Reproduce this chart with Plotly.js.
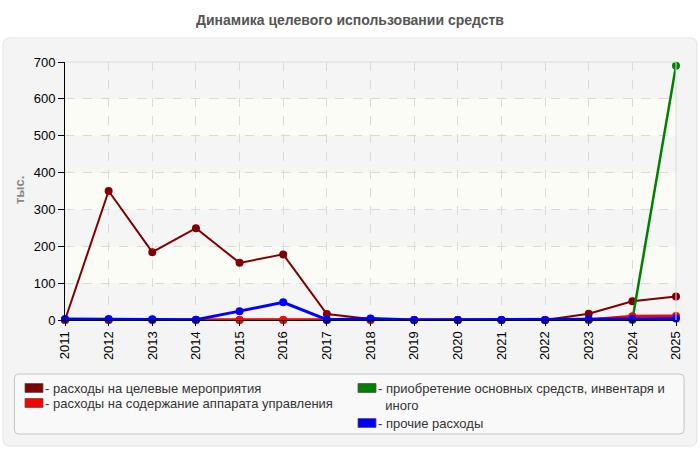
<!DOCTYPE html>
<html>
<head>
<meta charset="utf-8">
<script src="https://cdn.plot.ly/plotly-3.0.1.min.js"></script>
<style>
  html, body { margin: 0; padding: 0; background: #fff; }
  #chart { width: 700px; height: 450px; }
</style>
</head>
<body>
<div id="chart"></div>
<script>
// values, тыс.
const years = [2011, 2012, 2013, 2014, 2015, 2016, 2017, 2018, 2019, 2020, 2021, 2022, 2023, 2024, 2025];
const target_events = [0, 350, 184, 249, 155, 178, 16, 3, 0, 0, 0, 0, 17, 51, 64];
const admin_costs   = [0, 0, 0, 0, 0, 0, 0, 0, 0, 0, 0, 0, 1, 10, 11];
const fixed_assets  = [0, 0, 0, 0, 0, 0, 0, 0, 0, 0, 0, 0, 0, 0, 690];
const other_costs   = [3, 3, 2, 1, 24, 48, 1, 4, 0, 0, 0, 0, 2, 3, 4];

const series_names = [
    "расходы на целевые мероприятия",
    "расходы на содержание аппарата управления",
    "приобретение основных средств, инвентаря и<br>&nbsp;&nbsp;иного",
    "прочие расходы"
];
const series_colors = ["#800000", "#ff0000", "#008000", "#0000ff"];
const y_ticks = [0, 100, 200, 300, 400, 500, 600, 700];

const title_text = "Динамика целевого использовании средств";
const y_title = "тыс.";

// plot area in pixels
const L = 65, R = 676, T = 62, B = 320;
function px(x) { return (x - L) / (R - L); }
function py(y) { return (B - y) / (B - T); }

function round_rect(x0, y0, x1, y1, r) {
    // path in paper coords from pixel box
    let p = (x, y) => `${px(x)},${py(y)}`;
    return `M ${p(x0 + r, y0)} L ${p(x1 - r, y0)} Q ${p(x1, y0)} ${p(x1, y0 + r)}` +
           ` L ${p(x1, y1 - r)} Q ${p(x1, y1)} ${p(x1 - r, y1)}` +
           ` L ${p(x0 + r, y1)} Q ${p(x0, y1)} ${p(x0, y1 - r)}` +
           ` L ${p(x0, y0 + r)} Q ${p(x0, y0)} ${p(x0 + r, y0)} Z`;
}

function line_trace(values, idx, width) {
    return {
        x: years,
        y: values,
        type: 'scatter',
        mode: 'lines+markers',
        name: series_names[idx],
        line: {color: series_colors[idx], width: width},
        marker: {color: series_colors[idx], size: 8},
        cliponaxis: false,
        showlegend: false,
        hoverinfo: 'x+y'
    };
}

// draw order: dark red, green, red, blue on top
let traces = [
    line_trace(target_events, 0, 2),
    line_trace(fixed_assets, 2, 2.5),
    line_trace(admin_costs, 1, 3),
    line_trace(other_costs, 3, 3)
];

let shapes = [];
// outer panel
shapes.push({type: 'path', xref: 'paper', yref: 'paper', layer: 'below',
    path: round_rect(3, 38, 697, 446, 7), fillcolor: '#f4f4f4', line: {color: '#e3e3e3', width: 1}});
// alternating bands
for (let i = 0; i < y_ticks.length - 1; i++) {
    shapes.push({type: 'rect', xref: 'paper', yref: 'y', layer: 'below',
        x0: 0, x1: 1, y0: y_ticks[i], y1: y_ticks[i + 1],
        fillcolor: i % 2 == 0 ? '#f5f5f5' : '#fcfcf6', line: {width: 0}});
}
// top and right border
shapes.push({type: 'line', xref: 'paper', yref: 'paper', x0: 0, x1: 1, y0: 1, y1: 1, line: {color: '#dcdcdc', width: 1}});
shapes.push({type: 'line', xref: 'paper', yref: 'paper', x0: 1, x1: 1, y0: 0, y1: 1, line: {color: '#dcdcdc', width: 1}});
// legend box
shapes.push({type: 'path', xref: 'paper', yref: 'paper', layer: 'below',
    path: round_rect(14.5, 374, 684, 434, 4), fillcolor: '#f9f9f9', line: {color: '#c4c4c4', width: 1}});

let annotations = [];
annotations.push({xref: 'paper', yref: 'paper', x: px(19), y: py(190), text: y_title, showarrow: false,
    textangle: -90, xanchor: 'center', yanchor: 'middle',
    font: {family: 'Liberation Sans, Arial, sans-serif', size: 13, color: '#888', weight: 'bold'}});

// custom legend, two columns
let legend_pos = [[25, 388], [25, 403], [358, 388], [358, 423]];
let legend_order = [0, 1, 2, 3];
legend_order.forEach((idx, k) => {
    let [lx, ly] = legend_pos[k];
    shapes.push({type: 'rect', xref: 'paper', yref: 'paper',
        x0: px(lx), x1: px(lx + 18), y0: py(ly - 4.5), y1: py(ly + 4.5),
        fillcolor: series_colors[idx], line: {color: '#555', width: 0.8}});
    annotations.push({xref: 'paper', yref: 'paper', x: px(lx + 19), y: py(ly - 8.5),
        text: '- ' + series_names[idx], showarrow: false, align: 'left',
        xanchor: 'left', yanchor: 'top', borderpad: 0,
        font: {family: 'Liberation Sans, Arial, sans-serif', size: 13, color: '#333'}});
});

let layout = {
    width: 700,
    height: 450,
    margin: {l: L, r: 700 - R, t: T, b: 450 - B},
    paper_bgcolor: '#ffffff',
    plot_bgcolor: '#f6f6f6',
    font: {family: 'Liberation Sans, Arial, sans-serif', size: 13, color: '#000'},
    title: {text: title_text, xref: 'container', x: 0.5, xanchor: 'center',
        yref: 'container', y: 1 - 20 / 450, yanchor: 'middle',
        font: {family: 'Liberation Sans, Arial, sans-serif', size: 14, color: '#555', weight: 'bold'}},
    xaxis: {
        range: [2011, 2025],
        tickvals: years,
        ticktext: years.map(String),
        tickangle: -90,
        ticks: 'outside', ticklen: 5, tickcolor: '#000',
        showline: true, linecolor: '#000', linewidth: 1,
        showgrid: true, gridcolor: '#dadada', griddash: 'dash', gridwidth: 1,
        zeroline: false,
        tickfont: {size: 13, color: '#000'}
    },
    yaxis: {
        range: [0, 700],
        tickvals: y_ticks,
        ticks: 'outside', ticklen: 6, tickcolor: '#000',
        showline: true, linecolor: '#000', linewidth: 1,
        showgrid: true, gridcolor: '#dadada', griddash: 'dash', gridwidth: 1,
        zeroline: false,
        tickfont: {size: 13, color: '#000'}
    },
    shapes: shapes,
    annotations: annotations,
    showlegend: false
};

Plotly.newPlot('chart', traces, layout, {displayModeBar: false, staticPlot: true});
</script>
</body>
</html>
